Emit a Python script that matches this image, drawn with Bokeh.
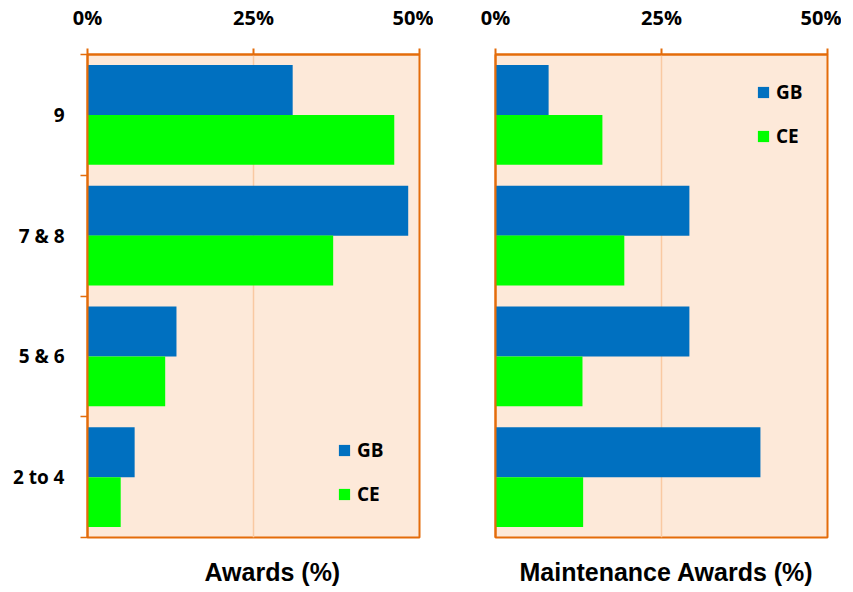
from bokeh.plotting import figure
from bokeh.layouts import row
from bokeh.models import Range1d, FixedTicker, Title, ColumnDataSource
from bokeh.embed import file_html
from bokeh.resources import INLINE

categories = ["2 to 4", "5 & 6", "7 & 8", "9"]
awards_gb = [7.1, 13.4, 48.3, 30.9]
awards_ce = [5.0, 11.7, 37.0, 46.2]
maint_gb = [39.9, 29.2, 29.2, 8.0]
maint_ce = [13.2, 13.1, 19.4, 16.1]
x_ticks = [0, 25, 50]
x_tick_labels = ["0%", "25%", "50%"]
series_names = ["GB", "CE"]

BLUE = "#0070C0"
GREEN = "#00FF00"
BG = "#FDE9D9"
ORANGE = "#E46C0A"
GRID = "#F9C9A2"
FONT = "Open Sans"

pos = [i + 0.5 for i in range(len(categories))]


def make_panel(gb, ce, title, left, show_y, legend_xy, title_offset):
    p = figure(output_backend="svg", toolbar_location=None,
               frame_width=332, frame_height=483,
               min_border_left=left, min_border_right=14,
               min_border_top=49, min_border_bottom=0,
               x_range=Range1d(0, 50), y_range=Range1d(0, len(categories)),
               x_axis_location="above")
    p.background_fill_color = BG
    p.border_fill_color = "white"
    p.outline_line_color = ORANGE
    p.outline_line_width = 2
    p.outline_line_alpha = 1

    src = ColumnDataSource(dict(
        y_gb=[v + 0.207 for v in pos], y_ce=[v - 0.207 for v in pos],
        gb=gb, ce=ce))
    p.hbar(y="y_gb", right="gb", left=0, height=0.414, source=src,
           fill_color=BLUE, line_color=None, legend_label=series_names[0])
    p.hbar(y="y_ce", right="ce", left=0, height=0.414, source=src,
           fill_color=GREEN, line_color=None, legend_label=series_names[1])

    xa = p.xaxis[0]
    xa.ticker = FixedTicker(ticks=x_ticks)
    xa.major_label_overrides = {t: l for t, l in zip(x_ticks, x_tick_labels)}
    xa.axis_line_color = ORANGE
    xa.axis_line_width = 2
    xa.major_tick_line_color = ORANGE
    xa.major_tick_line_width = 2
    xa.major_tick_out = 6
    xa.major_tick_in = 0
    xa.minor_tick_line_color = None
    xa.major_label_text_font = FONT
    xa.major_label_text_font_style = "bold"
    xa.major_label_text_font_size = "20px"
    xa.major_label_text_color = "black"
    xa.major_label_standoff = 18

    ya = p.yaxis[0]
    ya.ticker = FixedTicker(ticks=pos, minor_ticks=list(range(len(categories) + 1)))
    ya.major_label_overrides = {t: c for t, c in zip(pos, categories)}
    ya.axis_line_color = ORANGE
    ya.axis_line_width = 2
    ya.major_tick_line_color = None
    ya.major_tick_out = 0
    ya.major_tick_in = 0
    ya.major_label_text_font = FONT
    ya.major_label_text_font_style = "bold"
    ya.major_label_text_font_size = "19px"
    ya.major_label_text_color = "black"
    ya.major_label_standoff = 16
    if show_y:
        ya.minor_tick_line_color = ORANGE
        ya.minor_tick_line_width = 1.5
        ya.minor_tick_out = 7
        ya.minor_tick_in = 0
    else:
        ya.minor_tick_line_color = None
        ya.major_label_text_color = None
        ya.major_label_text_font_size = "1px"
        ya.major_label_standoff = 0

    p.xgrid.ticker = FixedTicker(ticks=x_ticks)
    p.xgrid.grid_line_color = GRID
    p.xgrid.grid_line_width = 1.5
    p.ygrid.grid_line_color = None

    lg = p.legend[0]
    lg.location = legend_xy
    lg.padding = 0
    lg.margin = 0
    lg.spacing = 18
    lg.glyph_width = 14
    lg.glyph_height = 14
    lg.label_standoff = 6
    lg.label_height = 20
    lg.label_text_font = FONT
    lg.label_text_font_style = "bold"
    lg.label_text_font_size = "19px"
    lg.label_text_color = "black"
    lg.background_fill_alpha = 0
    lg.border_line_color = None

    t = Title(text=title, align="left", offset=title_offset,
              text_font="Liberation Sans", text_font_style="bold",
              text_font_size="25px", text_color="black", standoff=37,
              text_line_height=0.8)
    p.add_layout(t, "below")
    return p


left = make_panel(awards_gb, awards_ce, "Awards (%)", 87, True, (250, 30), 117)
right = make_panel(maint_gb, maint_ce, "Maintenance Awards (%)", 62, False, (261, 388), 24)

layout = row(left, right)
open("out.html", "w").write(file_html(layout, INLINE))
